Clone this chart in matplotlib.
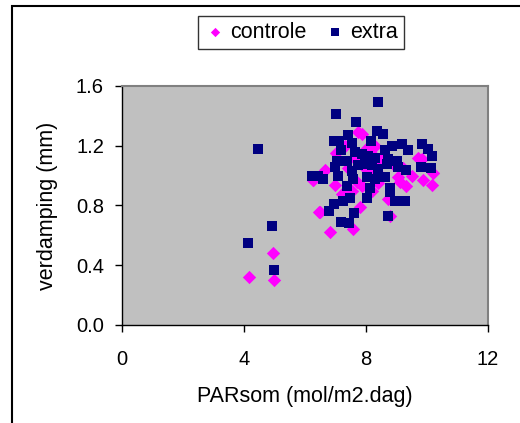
import matplotlib
matplotlib.use("Agg")
import matplotlib.pyplot as plt
from matplotlib.patches import Rectangle

plt.rcParams['font.family'] = ['Liberation Sans', 'DejaVu Sans']

# controle (magenta diamonds)
ctrl_x = [4.17, 4.94, 4.99, 6.27, 6.46, 7.75, 7.88, 7.02, 6.66, 6.25, 6.98, 7.86,
          9.11, 9.31, 9.86, 10.15, 10.2, 9.83, 7.53, 7.80, 6.49, 6.82, 7.58, 8.79,
          8.73, 8.30, 9.06, 8.35, 7.40, 7.60, 8.10, 8.50, 8.00, 7.20, 8.90, 9.50,
          7.70, 8.20, 8.60, 7.30, 9.20, 8.40, 7.95, 8.15, 9.70]
ctrl_y = [0.32, 0.48, 0.30, 0.97, 0.755, 1.295, 1.28, 1.15, 1.04, 0.97, 0.94, 0.93,
          0.955, 0.93, 0.97, 0.94, 1.02, 1.11, 0.90, 0.79, 0.755, 0.62, 0.64, 0.73,
          0.845, 1.20, 0.99, 1.10, 1.05, 1.12, 1.02, 1.00, 1.18, 0.88, 1.08, 1.00,
          0.96, 0.90, 1.14, 1.20, 1.05, 0.95, 1.06, 1.15, 1.12]

# extra (navy squares)
extra_x = [4.47, 4.91, 4.14, 4.97, 6.24, 6.41, 8.39, 7.02, 7.68, 8.35, 8.55, 7.40,
           6.96, 7.12, 7.55, 8.16, 9.17, 9.83, 10.04, 10.17, 9.39, 8.62, 8.84, 7.18,
           7.64, 7.86, 8.08, 8.30, 8.73, 9.00, 7.04, 7.37, 6.98, 7.75, 7.97, 8.19,
           8.40, 8.68, 9.06, 9.31, 9.79, 10.12, 6.58, 7.09, 7.53, 7.58, 8.02, 8.30,
           8.62, 7.37, 8.13, 8.79, 8.79, 8.02, 7.48, 7.26, 6.96, 6.80, 8.95, 9.28,
           7.61, 7.18, 7.45, 8.73]
extra_y = [1.18, 0.66, 0.55, 0.37, 1.00, 1.00, 1.49, 1.41, 1.36, 1.30, 1.28, 1.27,
           1.23, 1.23, 1.22, 1.23, 1.215, 1.215, 1.18, 1.13, 1.17, 1.17, 1.20, 1.17,
           1.16, 1.145, 1.13, 1.12, 1.11, 1.10, 1.10, 1.10, 1.06, 1.07, 1.08, 1.07,
           1.045, 1.08, 1.055, 1.04, 1.06, 1.05, 0.98, 1.00, 1.03, 0.98, 0.99, 0.98,
           0.99, 0.93, 0.92, 0.92, 0.89, 0.85, 0.85, 0.83, 0.81, 0.76, 0.83, 0.83,
           0.75, 0.69, 0.68, 0.73]

x_ticks = [0, 4, 8, 12]
y_ticks = [0.0, 0.4, 0.8, 1.2, 1.6]

fig = plt.figure(figsize=(5.2, 4.23), dpi=100)
ax = fig.add_axes([0.2346, 0.2317, 0.7039, 0.565])
ax.set_facecolor('#c0c0c0')

ax.scatter(ctrl_x, ctrl_y, marker='D', s=46, color='#ff00ff', linewidths=0,
           label='controle', zorder=3)
ax.scatter(extra_x, extra_y, marker='s', s=52, color='#000080', linewidths=0,
           label='extra', zorder=4)

ax.set_xlim(0, 12)
ax.set_ylim(0, 1.6)
ax.set_xticks(x_ticks)
ax.set_xticklabels([str(t) for t in x_ticks])
ax.set_yticks(y_ticks)
ax.set_yticklabels(['%.1f' % t for t in y_ticks])
ax.tick_params(direction='out', length=5, width=1, labelsize=14.5,
               colors='black')
ax.tick_params(axis='y', pad=8)
ax.tick_params(axis='x', pad=13)

for side in ['top', 'right']:
    ax.spines[side].set_color('#808080')
    ax.spines[side].set_linewidth(1.5)
for side in ['left', 'bottom']:
    ax.spines[side].set_color('black')
    ax.spines[side].set_linewidth(1)

ax.set_xlabel('PARsom (mol/m2.dag)', fontsize=15.5, labelpad=12)
ax.set_ylabel('verdamping (mm)', fontsize=15.5, labelpad=13)

leg = fig.legend(loc='center', bbox_to_anchor=(301 / 520, 1 - 32.5 / 423),
                 ncol=2, fontsize=15.5, frameon=True, fancybox=False,
                 handletextpad=0.2, columnspacing=0.8, borderpad=0.3,
                 handlelength=1.0, markerscale=0.7)
leg.get_frame().set_edgecolor('black')
leg.get_frame().set_linewidth(1)

fig.patches.append(Rectangle((12 / 520, -0.1), 1.2, 1.1 - 6 / 423,
                             transform=fig.transFigure, fill=False,
                             edgecolor='black', linewidth=1.5))

fig.savefig('out.png', dpi=100)
